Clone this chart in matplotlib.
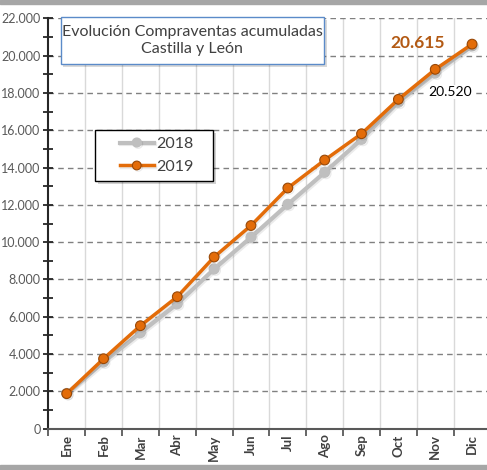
import matplotlib
matplotlib.use("Agg")
import matplotlib.pyplot as plt
from matplotlib.patches import Rectangle
from matplotlib.ticker import MultipleLocator, FuncFormatter
import matplotlib.patheffects as pe

months = ["Ene", "Feb", "Mar", "Abr", "May", "Jun", "Jul", "Ago", "Sep", "Oct", "Nov", "Dic"]
v2018 = [1890, 3575, 5146, 6695, 8560, 10259, 12028, 13743, 15512, 17500, 19066, 20520]
v2019 = [1880, 3752, 5521, 7075, 9203, 10891, 12902, 14402, 15812, 17656, 19264, 20615]
title_text = "Evolución Compraventas acumuladas\nCastilla y León"

W, H = 487, 470
fig = plt.figure(figsize=(W / 100, H / 100), dpi=100)
plt.rcParams['font.family'] = ['Lato', 'DejaVu Sans']

def fx(px):
    return px / W

def fy(py):
    return 1 - py / H

# outer grey bands
fig.patches.append(Rectangle((0, fy(4)), 1, 4 / H, transform=fig.transFigure, color="#a6a6a6", zorder=0))
fig.patches.append(Rectangle((0, 0), 1, 5 / H, transform=fig.transFigure, color="#a6a6a6", zorder=0))

left, right, top, bottom = 48.3, 490.5, 18.3, 428.7
ax = fig.add_axes([fx(left), fy(bottom), fx(right - left), (bottom - top) / H])
ax.set_facecolor("none")

x = list(range(len(months)))
ax.set_xlim(-0.5, 11.5)
ax.set_ylim(0, 22000)

# grids
for b in [i + 0.5 for i in range(11)]:
    ax.axvline(b, color="#d9d9d9", lw=1.0, zorder=1)
for yv in range(2000, 22001, 2000):
    ax.axhline(yv, color="#808080", lw=1.0, ls=(0, (4, 3)), zorder=1)

shadow = [pe.SimpleLineShadow(offset=(1.0, -1.0), shadow_color="#000000", alpha=0.08), pe.Normal()]
l18, = ax.plot(x, v2018, color="#bfbfbf", lw=3, marker="o", ms=7, mfc="#bfbfbf", mec="#bfbfbf",
               label="2018", zorder=3, path_effects=shadow)
l19, = ax.plot(x, v2019, color="#e36c09", lw=2.5, marker="o", ms=7, mfc="#e36c09", mec="#984807", mew=0.8,
               label="2019", zorder=4, path_effects=shadow)

# spines
for s in ["top", "right"]:
    ax.spines[s].set_visible(False)
ax.spines["left"].set_color("#262626")
ax.spines["left"].set_linewidth(1.5)
ax.spines["bottom"].set_color("#595959")
ax.spines["bottom"].set_linewidth(1.5)

ax.yaxis.set_major_locator(MultipleLocator(2000))
ax.yaxis.set_minor_locator(MultipleLocator(1000))
ax.yaxis.set_major_formatter(FuncFormatter(lambda v, p: f"{int(v):,}".replace(",", ".")))
ax.tick_params(axis="y", which="both", direction="inout", length=7, width=1.3, color="#262626",
               labelsize=9, labelcolor="#595959", pad=2)
ax.tick_params(axis="y", which="minor", length=7)

ax.set_xticks([i + 0.5 for i in range(-1, 12)], minor=False)
ax.set_xticklabels([])
ax.set_xticks(x, minor=True)
ax.set_xticklabels(months, minor=True, rotation=90, fontsize=9.5, fontweight="bold", color="#404040")
ax.tick_params(axis="x", which="major", direction="out", length=5, width=1.3, color="#595959")
ax.tick_params(axis="x", which="minor", length=0, pad=4)

# title box
tb_x0, tb_y0, tb_x1, tb_y1 = 60.5, 16.7, 323.5, 64
fig.patches.append(Rectangle((fx(tb_x0 + 3), fy(tb_y1 + 3)), fx(tb_x1 - tb_x0), (tb_y1 - tb_y0) / H,
                             transform=fig.transFigure, facecolor="#000000", alpha=0.15, edgecolor="none", zorder=5))
fig.patches.append(Rectangle((fx(tb_x0), fy(tb_y1)), fx(tb_x1 - tb_x0), (tb_y1 - tb_y0) / H,
                             transform=fig.transFigure, facecolor="white", edgecolor="#5b8bc9", lw=1.0, zorder=6))
fig.text(fx((tb_x0 + tb_x1) / 2), fy((tb_y0 + tb_y1) / 2), title_text, ha="center", va="center",
         fontsize=11.5, color="#404040", linespacing=1.25, zorder=7)

# legend box (drawn manually) + legend entries
lb_x0, lb_y0, lb_x1, lb_y1 = 94.5, 129.5, 213, 181
fig.patches.append(Rectangle((fx(lb_x0 + 3), fy(lb_y1 + 3)), fx(lb_x1 - lb_x0), (lb_y1 - lb_y0) / H,
                             transform=fig.transFigure, facecolor="#000000", alpha=0.18, edgecolor="none", zorder=5))
fig.patches.append(Rectangle((fx(lb_x0), fy(lb_y1)), fx(lb_x1 - lb_x0), (lb_y1 - lb_y0) / H,
                             transform=fig.transFigure, facecolor="white", edgecolor="#000000", lw=1.0, zorder=6))
leg = fig.legend(handles=[l18, l19], labels=["2018", "2019"],
                 loc="center left", bbox_to_anchor=(fx(120), fy(155.5)), bbox_transform=fig.transFigure,
                 frameon=False, fontsize=11.5, markerscale=0.9,
                 handlelength=2.1, labelspacing=0.55, borderpad=0, handletextpad=0.15, borderaxespad=0)
leg.set_zorder(8)
for t in leg.get_texts():
    t.set_color("#404040")

# data labels
fig.text(fx(418), fy(42.7), "20.615", ha="center", va="center",
         fontsize=12.5, fontweight="bold", color="#b35a14", zorder=8)
fig.text(fx(450), fy(92), "20.520", ha="center", va="center",
         fontsize=10, color="#000000", zorder=8,
         bbox=dict(boxstyle="square,pad=0.05", fc="white", ec="none"))

fig.savefig("out.png", dpi=100)
